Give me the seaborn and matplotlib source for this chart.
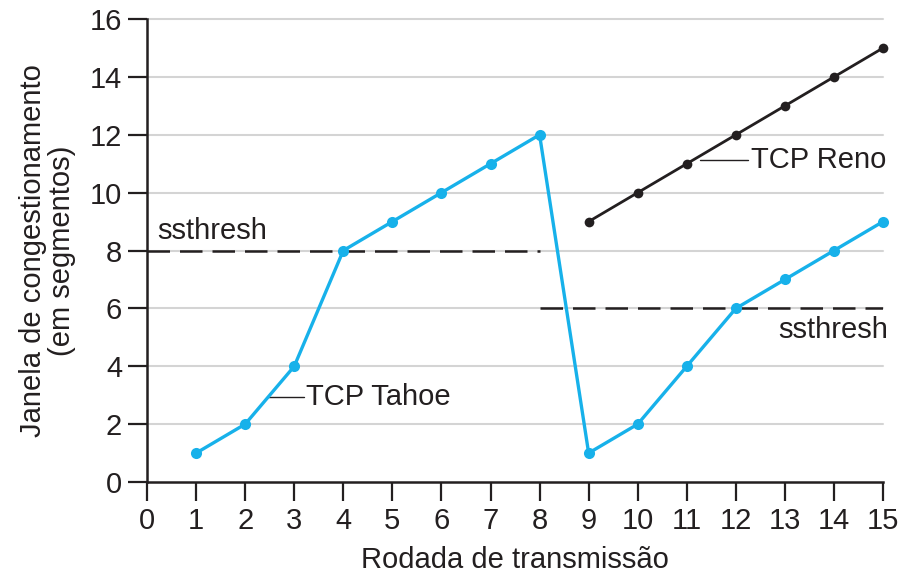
import matplotlib
matplotlib.use("Agg")
import matplotlib.pyplot as plt
import seaborn as sns
import pandas as pd

# Congestion window per transmission round
tahoe_rounds = [1, 2, 3, 4, 5, 6, 7, 8, 9, 10, 11, 12, 13, 14, 15]
tahoe_cwnd = [1, 2, 4, 8, 9, 10, 11, 12, 1, 2, 4, 6, 7, 8, 9]
reno_rounds = [9, 10, 11, 12, 13, 14, 15]
reno_cwnd = [9, 10, 11, 12, 13, 14, 15]

# Slow-start thresholds: (start round, end round, value)
ssthresh_before = (0, 8, 8)
ssthresh_after = (8, 15, 6)

x_ticks = list(range(0, 16))
y_ticks = list(range(0, 17, 2))

sns.set_style("white")
plt.rcParams["font.family"] = ["Liberation Sans", "DejaVu Sans"]

CYAN = "#17b1ea"
INK = "#231f20"
FS = 21

fig = plt.figure(figsize=(9.02, 5.77), dpi=100)
ax = fig.add_axes([0.163, 0.1646, 0.816, 0.8024])

tahoe = pd.DataFrame({"round": tahoe_rounds, "cwnd": tahoe_cwnd})
reno = pd.DataFrame({"round": reno_rounds, "cwnd": reno_cwnd})

for yv in y_ticks[1:]:
    ax.plot([0, 15], [yv, yv], color="#d4d4d4", lw=1.5, zorder=0, clip_on=False)

for x0, x1, yv in (ssthresh_before, ssthresh_after):
    ax.plot([x0, x1], [yv, yv], color=INK, lw=1.8, dashes=(9, 4), zorder=1)

sns.lineplot(data=tahoe, x="round", y="cwnd", ax=ax, color=CYAN, lw=2.4,
             marker="o", markersize=8, markeredgewidth=0, zorder=3, clip_on=False)
sns.lineplot(data=reno, x="round", y="cwnd", ax=ax, color=INK, lw=2.0,
             marker="o", markersize=7, markeredgewidth=0, zorder=3, clip_on=False)

# Series labels with leader lines
ax.plot([2.47, 3.2], [2.94, 2.94], color=INK, lw=1.0, zorder=2)
ax.text(3.25, 2.94, "TCP Tahoe", fontsize=FS, color=INK, va="center", ha="left")
ax.plot([11.27, 12.25], [11.14, 11.14], color=INK, lw=1.0, zorder=2)
ax.text(12.3, 11.14, "TCP Reno", fontsize=FS, color=INK, va="center", ha="left")

ax.text(0.2, 8.2, "ssthresh", fontsize=FS, color=INK, va="bottom", ha="left")
ax.text(15.1, 5.75, "ssthresh", fontsize=FS, color=INK, va="top", ha="right")

ax.set_xlim(0, 15)
ax.set_ylim(0, 16)
ax.set_xticks(x_ticks)
ax.set_yticks(y_ticks)
ax.tick_params(axis="both", which="major", direction="out", length=14, width=1.6,
               labelsize=FS, colors=INK, pad=4, left=True, bottom=True)
ax.set_xlabel("Rodada de transmissão", fontsize=FS, color=INK, labelpad=8)
ax.set_ylabel("Janela de congestionamento\n(em segmentos)", fontsize=FS, color=INK,
              labelpad=10, linespacing=1.05)

for side in ("top", "right"):
    ax.spines[side].set_visible(False)
for side in ("left", "bottom"):
    ax.spines[side].set_color(INK)
    ax.spines[side].set_linewidth(1.8)

fig.savefig("out.png", dpi=100)
